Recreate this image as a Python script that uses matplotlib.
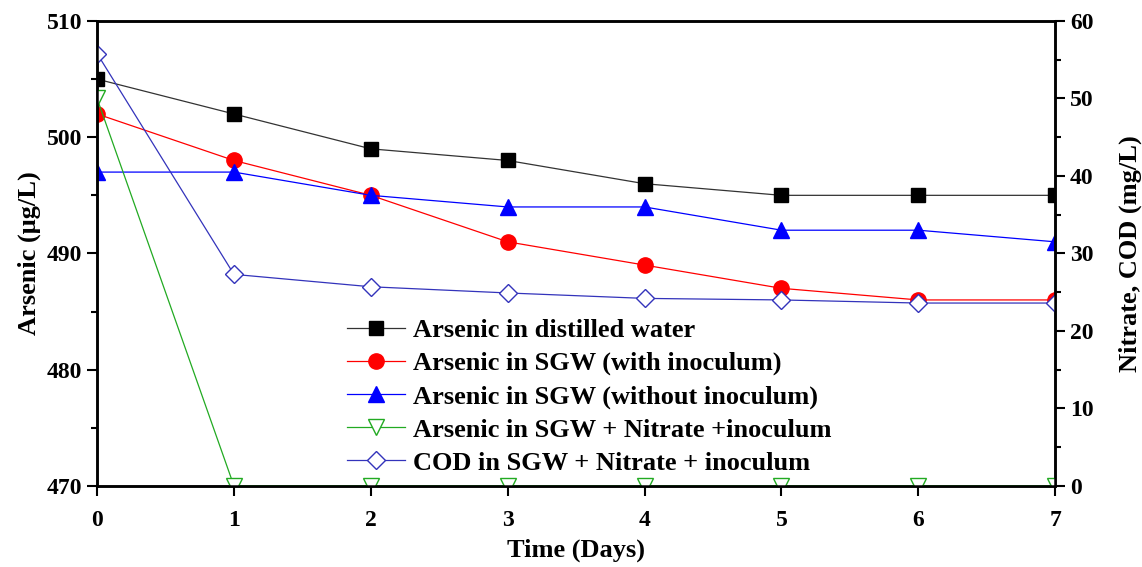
import numpy as np
import matplotlib.pyplot as plt
from matplotlib.ticker import MultipleLocator

plt.rcParams['font.family'] = ['Liberation Serif', 'DejaVu Serif']
plt.rcParams['font.weight'] = 'bold'

days = [0, 1, 2, 3, 4, 5, 6, 7]
as_distilled = [505, 502, 499, 498, 496, 495, 495, 495]
as_sgw_inoc = [502, 498, 495, 491, 489, 487, 486, 486]
as_sgw_noinoc = [497, 497, 495, 494, 494, 492, 492, 491]
nitrate = [50, 0, 0, 0, 0, 0, 0, 0]
cod = [55.8, 27.3, 25.7, 24.9, 24.2, 24.0, 23.6, 23.6]

fig = plt.figure(figsize=(11.42, 5.67), dpi=100)
ax = fig.add_axes([0.085, 0.143, 0.839, 0.820])
ax2 = ax.twinx()

l1, = ax.plot(days, as_distilled, color='#333333', lw=0.9, marker='s', ms=10,
              mfc='black', mec='black', label='Arsenic in distilled water')
l2, = ax.plot(days, as_sgw_inoc, color='red', lw=0.9, marker='o', ms=11,
              mfc='red', mec='red', label='Arsenic in SGW (with inoculum)')
l3, = ax.plot(days, as_sgw_noinoc, color='blue', lw=0.9, marker='^', ms=11,
              mfc='blue', mec='blue', label='Arsenic in SGW (without inoculum)')
l4, = ax2.plot(days, nitrate, color='#22aa22', lw=0.9, marker='v', ms=11,
               mfc='white', mec='#22aa22', label='Arsenic in SGW + Nitrate +inoculum')
l5, = ax2.plot(days, cod, color='#3333bb', lw=0.9, marker='D', ms=9,
               mfc='white', mec='#3333bb', label='COD in SGW + Nitrate + inoculum')

ax.set_xlim(0, 7)
ax.set_ylim(470, 510)
ax2.set_ylim(0, 60)

ax.xaxis.set_major_locator(MultipleLocator(1))
ax.yaxis.set_major_locator(MultipleLocator(10))
ax.yaxis.set_minor_locator(MultipleLocator(5))
ax2.yaxis.set_major_locator(MultipleLocator(10))
ax2.yaxis.set_minor_locator(MultipleLocator(5))

for a in (ax, ax2):
    a.tick_params(axis='both', which='major', direction='out', length=7, width=1.5,
                  labelsize=17)
    a.tick_params(axis='both', which='minor', direction='out', length=4, width=1.5)
    for s in a.spines.values():
        s.set_linewidth(1.8)
ax.tick_params(axis='x', which='major', pad=10)

ax.set_xlabel('Time (Days)', fontsize=19, fontweight='bold', labelpad=6)
ax.set_ylabel(u'Arsenic (\u03bcg/L)', fontsize=19, fontweight='bold', labelpad=4)
ax2.set_ylabel('Nitrate, COD (mg/L)', fontsize=19, fontweight='bold', labelpad=18)

ax2.legend(handles=[l1, l2, l3, l4, l5], loc='upper left',
           bbox_to_anchor=(0.25, 0.383), frameon=False, fontsize=19,
           handlelength=2.2, labelspacing=0.36, handletextpad=0.3,
           borderaxespad=0)

fig.savefig('out.png', dpi=100)
